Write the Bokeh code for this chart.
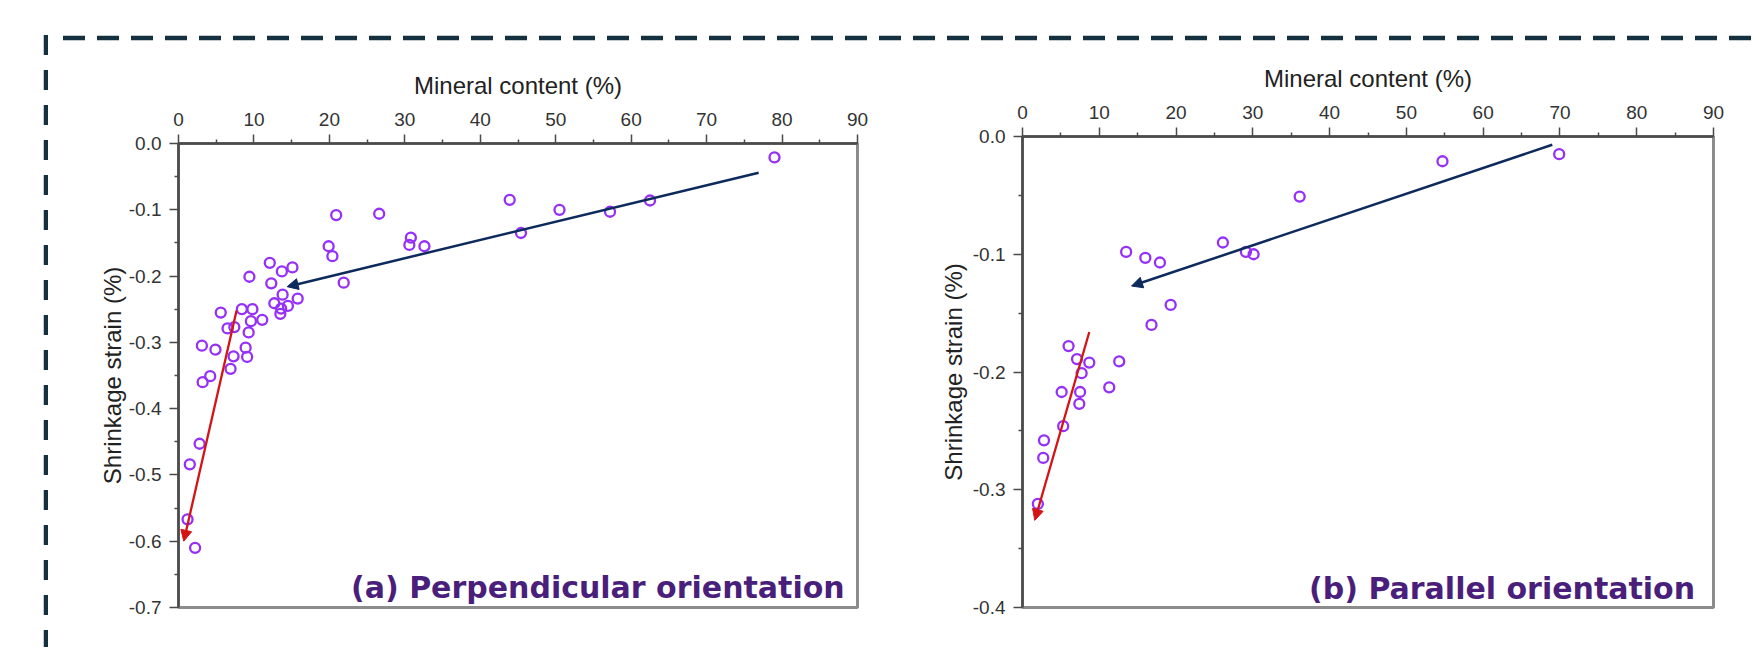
from bokeh.plotting import figure
from bokeh.models import Range1d, FixedTicker, Arrow, NormalHead, Label, ColumnDataSource, Div
from bokeh.layouts import row, column
from bokeh.embed import file_html
from bokeh.resources import INLINE

# ---------------- data ----------------
x_ticks = [0, 10, 20, 30, 40, 50, 60, 70, 80, 90]
x_tick_labels = ["0", "10", "20", "30", "40", "50", "60", "70", "80", "90"]
x_minor = [5, 15, 25, 35, 45, 55, 65, 75, 85]

ya_ticks = [0.0, -0.1, -0.2, -0.3, -0.4, -0.5, -0.6, -0.7]
ya_tick_labels = ["0.0", "-0.1", "-0.2", "-0.3", "-0.4", "-0.5", "-0.6", "-0.7"]
ya_minor = [-0.05, -0.15, -0.25, -0.35, -0.45, -0.55, -0.65]

yb_ticks = [0.0, -0.1, -0.2, -0.3, -0.4]
yb_tick_labels = ["0.0", "-0.1", "-0.2", "-0.3", "-0.4"]
yb_minor = [-0.05, -0.15, -0.25, -0.35]

# (a) Perpendicular orientation
a_mineral = [43.9, 50.5, 45.4, 26.6, 20.9, 30.8, 30.6, 32.6, 19.9, 20.4,
             21.9, 12.1, 13.7, 15.1, 12.3, 9.4, 13.8, 15.8, 12.7, 13.6,
             14.5, 13.5, 5.6, 8.4, 9.8, 9.6, 11.1, 6.5, 7.4, 9.3,
             3.1, 4.9, 7.3, 8.9, 9.1, 6.9, 3.2, 4.2, 2.8, 1.5,
             1.2, 2.2, 57.2, 62.5, 79.0]
a_strain = [-0.085, -0.100, -0.135, -0.106, -0.108, -0.142, -0.153, -0.155, -0.155, -0.170,
            -0.210, -0.180, -0.193, -0.187, -0.211, -0.201, -0.228, -0.234, -0.241, -0.249,
            -0.245, -0.257, -0.255, -0.250, -0.250, -0.268, -0.266, -0.279, -0.277, -0.285,
            -0.305, -0.311, -0.321, -0.308, -0.322, -0.340, -0.360, -0.351, -0.453, -0.484,
            -0.567, -0.610, -0.103, -0.086, -0.021]
# trend arrows (x_start, y_start, x_end, y_end)
a_blue_arrow = [76.9, -0.044, 14.4, -0.216]
a_red_arrow = [7.7, -0.252, 0.7, -0.600]

# (b) Parallel orientation
b_mineral = [36.1, 26.1, 29.1, 30.1, 13.5, 16.0, 17.9, 19.3, 16.8, 6.0,
             7.1, 8.7, 12.6, 7.7, 11.3, 5.1, 7.5, 7.4, 5.3, 2.8,
             2.7, 2.0, 54.7, 69.9]
b_strain = [-0.051, -0.090, -0.098, -0.100, -0.098, -0.103, -0.107, -0.143, -0.160, -0.178,
            -0.189, -0.192, -0.191, -0.201, -0.213, -0.217, -0.217, -0.227, -0.246, -0.258,
            -0.273, -0.312, -0.021, -0.015]
b_blue_arrow = [69.0, -0.007, 14.2, -0.127]
b_red_arrow = [8.7, -0.166, 1.6, -0.326]

x_title = "Mineral content (%)"
y_title = "Shrinkage strain (%)"
a_label = "(a) Perpendicular orientation"
b_label = "(b) Parallel orientation"

# ---------------- styles ----------------
PT_COLOR = "#9630f7"
BLUE = "#0d2a5c"
RED = "#d41414"
LABEL_COLOR = "#4a1f7c"
BORDER = "#15303f"
AXIS_COLOR = "#4a4a4a"
FONT = "Liberation Sans"


def make_panel(xs, ys, yticks, ylabels, yminor, ymin, blue, red, label,
               fw, fh, ml, mr, mt, mb, lab_x, lab_y, ylab_standoff):
    p = figure(frame_width=fw, frame_height=fh,
               min_border_left=ml, min_border_right=mr,
               min_border_top=mt, min_border_bottom=mb,
               x_range=Range1d(0, 90), y_range=Range1d(ymin, 0),
               x_axis_location="above", y_axis_location="left",
               output_backend="svg", toolbar_location=None, tools="")
    p.grid.visible = False
    p.background_fill_color = "white"
    p.border_fill_color = "white"
    p.outline_line_color = "#8c8c8c"
    p.outline_line_width = 3

    xa = p.xaxis[0]
    xa.ticker = FixedTicker(ticks=x_ticks, minor_ticks=x_minor)
    xa.major_label_overrides = {t: l for t, l in zip(x_ticks, x_tick_labels)}
    xa.axis_label = x_title

    ya = p.yaxis[0]
    ya.ticker = FixedTicker(ticks=yticks, minor_ticks=yminor)
    ya.major_label_overrides = {t: l for t, l in zip(yticks, ylabels)}
    ya.axis_label = y_title

    for ax in (xa, ya):
        ax.axis_line_color = AXIS_COLOR
        ax.axis_line_width = 2.5
        ax.major_tick_line_color = AXIS_COLOR
        ax.minor_tick_line_color = AXIS_COLOR
        ax.major_tick_line_width = 1.5
        ax.minor_tick_line_width = 1.5
        ax.major_tick_in = 0
        ax.major_tick_out = 9
        ax.minor_tick_in = 0
        ax.minor_tick_out = 4
        ax.major_label_text_font = FONT
        ax.major_label_text_font_size = "19px"
        ax.major_label_text_color = "#333333"
        ax.axis_label_text_font = FONT
        ax.axis_label_text_font_size = "24px"
        ax.axis_label_text_font_style = "normal"
        ax.axis_label_text_color = "#222222"
    xa.major_label_standoff = 9
    xa.axis_label_standoff = 11
    ya.major_label_standoff = 8
    ya.axis_label_standoff = ylab_standoff

    src = ColumnDataSource(dict(x=xs, y=ys))
    p.scatter("x", "y", source=src, marker="circle", size=10,
              fill_color=None, line_color=PT_COLOR, line_width=2.3)

    for arr, col, w in ((blue, BLUE, 2.5), (red, RED, 2.3)):
        p.add_layout(Arrow(end=NormalHead(size=11, fill_color=col, line_color=col),
                           x_start=arr[0], y_start=arr[1], x_end=arr[2], y_end=arr[3],
                           line_color=col, line_width=w))

    p.add_layout(Label(x=lab_x, y=lab_y, text=label, text_align="right",
                       text_baseline="alphabetic", text_font="DejaVu Sans",
                       text_font_style="bold", text_font_size="30px",
                       text_color=LABEL_COLOR))
    return p


pa = make_panel(a_mineral, a_strain, ya_ticks, ya_tick_labels, ya_minor, -0.7,
                a_blue_arrow, a_red_arrow, a_label,
                fw=679, fh=464, ml=130, mr=43, mt=101, mb=40,
                lab_x=88.3, lab_y=-0.670, ylab_standoff=0)
pb = make_panel(b_mineral, b_strain, yb_ticks, yb_tick_labels, yb_minor, -0.4,
                b_blue_arrow, b_red_arrow, b_label,
                fw=691, fh=471, ml=122, mr=40, mt=94, mb=40,
                lab_x=87.6, lab_y=-0.3837, ylab_standoff=3)


def dash_div(w, h, x1, y1, x2, y2, dash, offset=0):
    svg = (f'<svg xmlns="http://www.w3.org/2000/svg" width="{w}" height="{h}" '
           f'style="display:block">'
           f'<line x1="{x1}" y1="{y1}" x2="{x2}" y2="{y2}" stroke="{BORDER}" '
           f'stroke-width="4.5" stroke-dasharray="{dash}" stroke-dashoffset="{offset}"/>'
           f'</svg>')
    return Div(text=svg, width=w, height=h, styles={"margin": "0", "padding": "0"})


# dashed frame around the figure (decoration)
left_div = dash_div(48, 647, 46, 35, 46, 647, "20 15")
top_a = dash_div(852, 42, 15, 38, 852, 38, "22 12")
top_b = dash_div(853, 42, 0, 38, 853, 38, "22 12", offset=21)

layout = row(left_div, column(top_a, pa), column(top_b, pb))

with open("out.html", "w") as f:
    f.write(file_html(layout, INLINE))
